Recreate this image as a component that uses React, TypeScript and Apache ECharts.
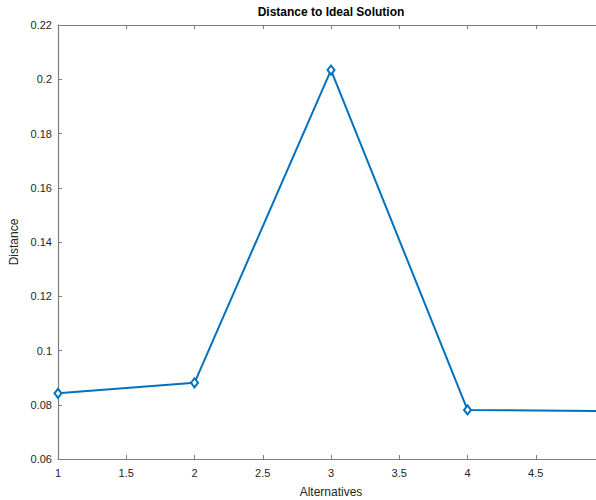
import React, { useEffect, useRef } from "react";
import * as echarts from "echarts";

// Alternatives (x) and their distance to the ideal solution (y)
const alternatives = [1, 2, 3, 4, 5];
const distances = [0.0842, 0.0881, 0.2034, 0.0781, 0.0777];

const xMin = 1;
const xMax = 5;
const xStep = 0.5;
const yMin = 0.06;
const yMax = 0.22;
const yStep = 0.02;

const titleText = "Distance to Ideal Solution";
const xLabel = "Alternatives";
const yLabel = "Distance";

const FONT = "'Liberation Sans', Arial, Helvetica, sans-serif";
const AXIS_GRAY = "#7d7d7d";
const TEXT_DARK = "#262626";
const LINE_BLUE = "#0072BD";

// The axes box runs past the right edge of the visible frame, so the chart
// canvas is wider than its clipping container.
const FRAME_W = 596;
const FRAME_H = 500;
const CHART_W = 620;

export default function App() {
  const ref = useRef<HTMLDivElement>(null);

  useEffect(() => {
    if (!ref.current) return;
    const chart = echarts.init(ref.current, null, { renderer: "svg" });

    const points = alternatives.map((x, i) => [x, distances[i]]);

    const baseX = {
      type: "value" as const,
      min: xMin,
      max: xMax,
      interval: xStep,
      splitLine: { show: false },
      axisLine: { show: true, onZero: false, lineStyle: { color: AXIS_GRAY, width: 1.2 } },
      axisTick: { show: true, inside: true, length: 4, lineStyle: { color: AXIS_GRAY, width: 1 } },
    };

    chart.setOption({
      animation: false,
      backgroundColor: "#ffffff",
      textStyle: { fontFamily: FONT },
      grid: {
        left: 58,
        top: 25,
        right: CHART_W - 604,
        bottom: 41,
        containLabel: false,
        outerBoundsMode: "none",
      },
      xAxis: [
        {
          ...baseX,
          position: "bottom",
          name: xLabel,
          nameLocation: "middle",
          nameGap: 27,
          nameTextStyle: { fontFamily: FONT, fontSize: 12, color: TEXT_DARK },
          axisLabel: {
            show: true,
            margin: 8,
            showMaxLabel: false,
            fontFamily: FONT,
            fontSize: 11,
            color: TEXT_DARK,
            formatter: (v: number) => String(+v.toFixed(2)),
          },
        },
        {
          ...baseX,
          position: "top",
          axisLabel: { show: false },
        },
      ],
      yAxis: {
        type: "value",
        min: yMin,
        max: yMax,
        interval: yStep,
        name: yLabel,
        nameLocation: "middle",
        nameRotate: 90,
        nameGap: 36,
        nameTextStyle: { fontFamily: FONT, fontSize: 12, color: TEXT_DARK },
        splitLine: { show: false },
        axisLine: { show: true, onZero: false, lineStyle: { color: AXIS_GRAY, width: 1.2 } },
        axisTick: { show: true, inside: true, length: 4, lineStyle: { color: AXIS_GRAY, width: 1 } },
        axisLabel: {
          margin: 6,
          fontFamily: FONT,
          fontSize: 11,
          color: TEXT_DARK,
          formatter: (v: number) => String(+v.toFixed(2)),
        },
      },
      graphic: [
        {
          type: "text",
          x: 331,
          y: 12,
          style: {
            text: titleText,
            fontFamily: FONT,
            fontSize: 12,
            fontWeight: "bold",
            fill: "#000000",
            textAlign: "center",
            textVerticalAlign: "middle",
          },
        },
      ],
      series: [
        {
          type: "line",
          xAxisIndex: 0,
          data: points,
          symbol: "emptyDiamond",
          symbolSize: [7, 9],
          showAllSymbol: true,
          lineStyle: { color: LINE_BLUE, width: 2 },
          itemStyle: { color: LINE_BLUE, borderColor: LINE_BLUE, borderWidth: 1.5 },
        },
      ],
    });

    return () => chart.dispose();
  }, []);

  return (
    <div
      style={{
        position: "absolute",
        left: 0,
        top: 0,
        width: FRAME_W,
        height: FRAME_H,
        overflow: "hidden",
        background: "#ffffff",
      }}
    >
      <div ref={ref} style={{ width: CHART_W, height: FRAME_H }} />
    </div>
  );
}
